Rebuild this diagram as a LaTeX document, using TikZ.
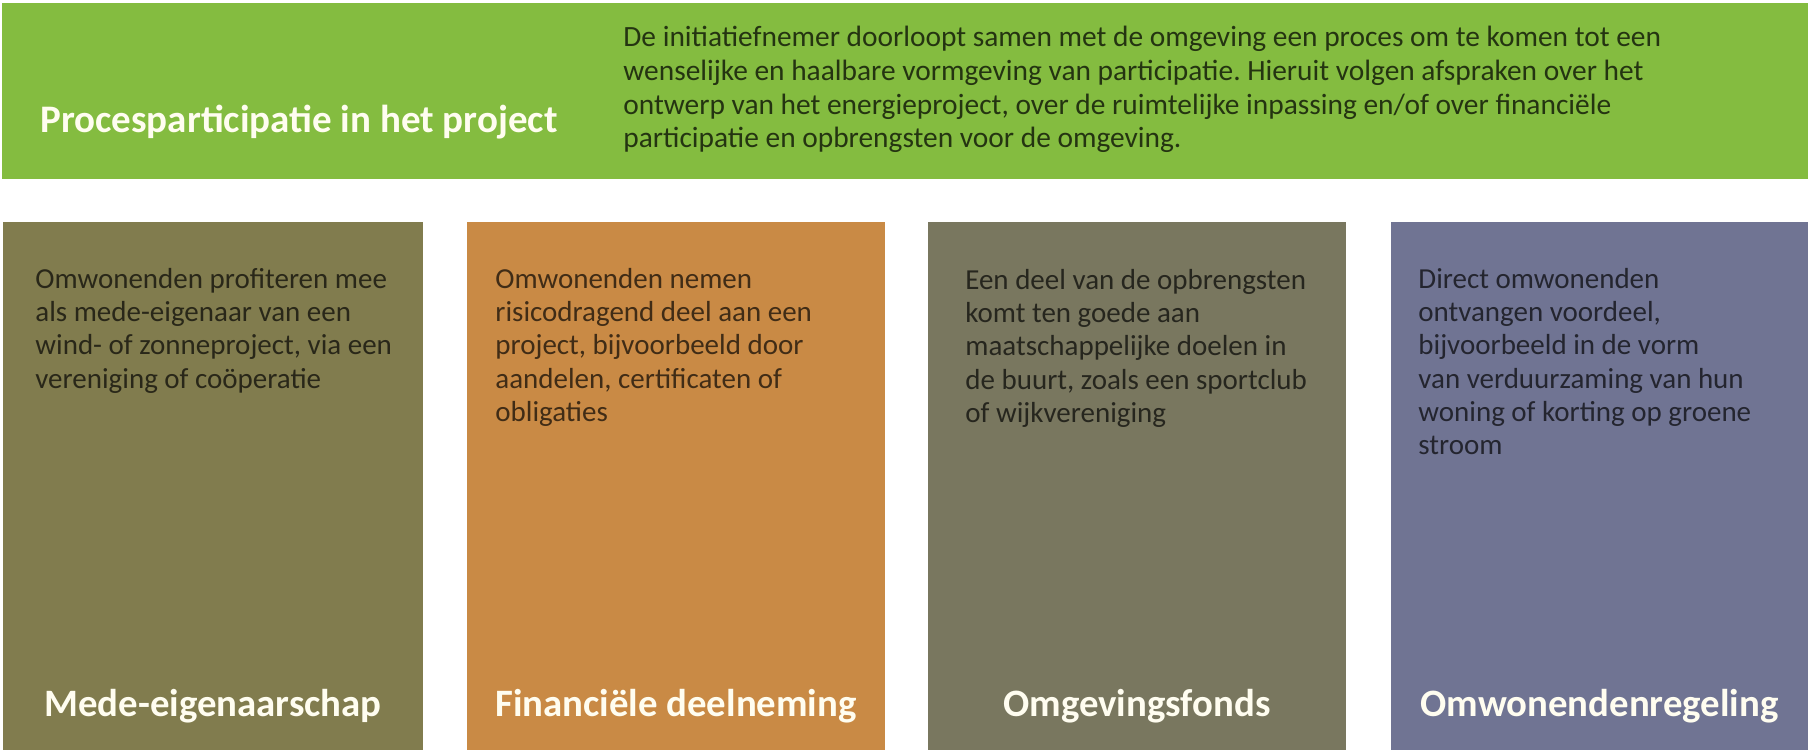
\documentclass[tikz,border=0pt]{standalone}
\usepackage{fontspec}
\setmainfont{Carlito}
\frenchspacing
\definecolor{barGreen}{HTML}{84BC40}
\definecolor{boxOlive}{HTML}{817C4E}
\definecolor{boxOrange}{HTML}{C98A45}
\definecolor{boxGrey}{HTML}{79775F}
\definecolor{boxBlue}{HTML}{707493}
\definecolor{titleWhite}{HTML}{FFFDF0}
\tikzset{
  panel/.style={anchor=north west, inner sep=0pt, outer sep=0pt, minimum height=528*0.5pt},
  bodytext/.style={anchor=north west, inner sep=0pt, align=left, text=black, text opacity=0.68,
    font=\fontsize{14.5pt}{16.6pt}\selectfont},
  toptext/.style={anchor=north west, inner sep=0pt, align=left, text=black, text opacity=0.72,
    font=\fontsize{14.7pt}{16.8pt}\selectfont},
  paneltitle/.style={anchor=base, inner sep=0pt, text=titleWhite, font=\fontsize{19.4pt}{22pt}\selectfont\bfseries},
}
\begin{document}
\begin{tikzpicture}[x=0.5pt,y=-0.5pt]
\useasboundingbox[fill=white] (0,0) rectangle (1814,755);
% top bar
\node[anchor=north west, inner sep=0pt, fill=barGreen, minimum width=1806*0.5pt, minimum height=176*0.5pt] (bar) at (2,3) {};
\node[anchor=base west, inner sep=0pt, text=titleWhite, font=\fontsize{19.5pt}{22pt}\selectfont\bfseries] (bartitle) at (40,132) {Procesparticipatie in het project};
\node[toptext] (bartext) at (623,26) {De initiatiefnemer doorloopt samen met de omgeving een proces om te komen tot een\\
wenselijke en haalbare vormgeving van participatie. Hieruit volgen afspraken over het\\
ontwerp van het energieproject, over de ruimtelijke inpassing en/of over financiële\\
participatie en opbrengsten voor de omgeving.};
% panels
\node[panel, fill=boxOlive, minimum width=420*0.5pt] (p1) at (3,222) {};
\node[panel, fill=boxOrange, minimum width=418*0.5pt] (p2) at (467,222) {};
\node[panel, fill=boxGrey, minimum width=418*0.5pt] (p3) at (928,222) {};
\node[panel, fill=boxBlue, minimum width=417*0.5pt] (p4) at (1391,222) {};
% panel texts
\node[bodytext] (t1) at (35,268) {Omwonenden profiteren mee\\als mede-eigenaar van een\\wind- of zonneproject, via een\\vereniging of coöperatie};
\node[bodytext] (t2) at (495,268) {Omwonenden nemen\\risicodragend deel aan een\\project, bijvoorbeeld door\\aandelen, certificaten of\\obligaties};
\node[bodytext] (t3) at (965,269) {Een deel van de opbrengsten\\komt ten goede aan\\maatschappelijke doelen in\\de buurt, zoals een sportclub\\of wijkvereniging};
\node[bodytext] (t4) at (1418,268) {Direct omwonenden\\ontvangen voordeel,\\bijvoorbeeld in de vorm\\van verduurzaming van hun\\woning of korting op groene\\stroom};
% panel titles
\node[paneltitle] (h1) at (p1.south |- 0,716) {Mede-eigenaarschap};
\node[paneltitle] (h2) at (p2.south |- 0,716) {Financiële deelneming};
\node[paneltitle] (h3) at (p3.south |- 0,716) {Omgevingsfonds};
\node[paneltitle] (h4) at (p4.south |- 0,716) {Omwonendenregeling};
\end{tikzpicture}
\end{document}
